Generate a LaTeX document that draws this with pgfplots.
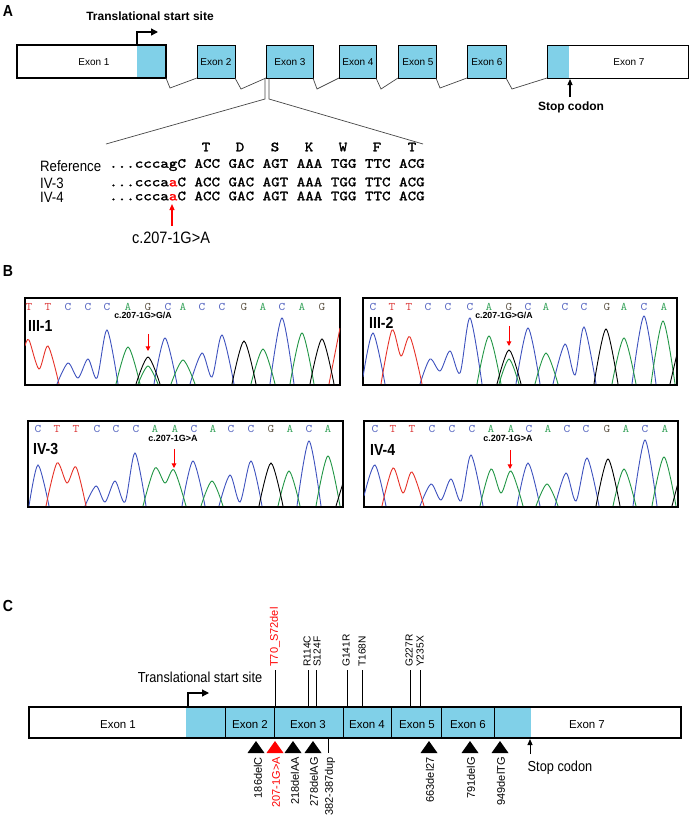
\documentclass[border=0pt]{standalone}
\usepackage{pgfplots}
\pgfplotsset{compat=1.18}
\usetikzlibrary{arrows.meta}
\usepackage{fontspec}
\setmainfont{Liberation Sans}
\newfontfamily\nar{Liberation Sans}[FakeStretch=0.88]
\newfontfamily\seqb{lmmono10-regular.otf}[FakeStretch=1.16,FakeBold=1.6]
\newfontfamily\seql{lmmono10-regular.otf}[FakeStretch=1.1]
\newcommand\fs[1]{\fontsize{#1}{#1}\selectfont}
\definecolor{exb}{RGB}{128,208,232}
\definecolor{cb}{RGB}{62,82,190}
\definecolor{cg}{RGB}{34,150,70}
\definecolor{cr}{RGB}{230,50,40}
\definecolor{lb}{RGB}{80,96,190}
\definecolor{lg}{RGB}{60,165,95}
\definecolor{lr}{RGB}{220,60,60}
\definecolor{lk}{RGB}{95,85,70}
\definecolor{lnk}{RGB}{70,70,70}
\newcommand\nt[3]{\node[font=\seql\fs{11.5},text=#3,inner sep=0] at (axis cs:#1,77) {#2};}
\newcommand\bT[1]{\nt{#1}{T}{lr}}
\newcommand\bC[1]{\nt{#1}{C}{lb}}
\newcommand\bA[1]{\nt{#1}{A}{lg}}
\newcommand\bG[1]{\nt{#1}{G}{lk}}
\tikzset{tb/.style={cb,line width=0.9pt,smooth},
 tg/.style={cg,line width=0.9pt,smooth},
 tr/.style={cr,line width=0.9pt,smooth},
 tk/.style={black,line width=0.9pt,smooth}}
\pgfplotsset{chrom/.style={anchor=south west,scale only axis,ticks=none,
  axis line style={line width=1.2pt},clip=true,no markers}}
\begin{document}
\begin{tikzpicture}
\path[use as bounding box] (0,0) rectangle (692pt,820pt);
\begin{axis}[at={(0pt,0pt)},anchor=south west,scale only axis,width=692pt,height=820pt,
  xmin=0,xmax=692,ymin=0,ymax=820,y dir=reverse,hide axis,clip=false,no markers]
% ---------- panel letters
\node[font=\nar\bfseries\fs{16}] at (axis cs:8,11) {A};
\node[font=\nar\bfseries\fs{16}] at (axis cs:8,271) {B};
\node[font=\nar\bfseries\fs{16}] at (axis cs:8,606) {C};
% ---------- panel A : exons
\addplot[fill=exb,draw=none] coordinates {(137,45)(166,45)(166,78)(137,78)} -- cycle;
\addplot[draw=black,line width=1.3pt] coordinates {(17,45)(166,45)(166,78)(17,78)} -- cycle;
\addplot[fill=exb,draw=black,line width=1pt] coordinates {(197,45)(235,45)(235,78)(197,78)} -- cycle;
\addplot[fill=exb,draw=black,line width=1pt] coordinates {(266,45)(313,45)(313,78)(266,78)} -- cycle;
\addplot[fill=exb,draw=black,line width=1pt] coordinates {(339,45)(376,45)(376,78)(339,78)} -- cycle;
\addplot[fill=exb,draw=black,line width=1pt] coordinates {(398,45)(436,45)(436,78)(398,78)} -- cycle;
\addplot[fill=exb,draw=black,line width=1pt] coordinates {(467,45)(506,45)(506,78)(467,78)} -- cycle;
\addplot[fill=exb,draw=none] coordinates {(547,45)(569,45)(569,78)(547,78)} -- cycle;
\addplot[draw=black,line width=1pt] coordinates {(547,45)(688,45)(688,78)(547,78)} -- cycle;
% introns
\addplot[lnk,line width=0.7pt] coordinates {(166,78)(170,88)(197,78)};
\addplot[lnk,line width=0.7pt] coordinates {(235,78)(241,89)(266,78)};
\addplot[lnk,line width=0.7pt] coordinates {(313,78)(317,89)(339,78)};
\addplot[lnk,line width=0.7pt] coordinates {(376,78)(381,89)(398,78)};
\addplot[lnk,line width=0.7pt] coordinates {(436,78)(440,88)(467,78)};
\addplot[lnk,line width=0.7pt] coordinates {(506,78)(512,89)(547,78)};
% zoom lines
\addplot[lnk,line width=0.7pt] coordinates {(265,78)(265,99)(106,144)};
\addplot[lnk,line width=0.7pt] coordinates {(269,78)(269,99)(423,144)};
\node[font=\fs{10}] at (axis cs:94,62) {Exon 1};
\node[font=\fs{10}] at (axis cs:216,62) {Exon 2};
\node[font=\fs{10}] at (axis cs:290,62) {Exon 3};
\node[font=\fs{10}] at (axis cs:358,62) {Exon 4};
\node[font=\fs{10}] at (axis cs:418,62) {Exon 5};
\node[font=\fs{10}] at (axis cs:487,62) {Exon 6};
\node[font=\fs{10}] at (axis cs:629,62) {Exon 7};
% start site / stop codon
\addplot[black,line width=1.4pt,-{Triangle[length=7pt,width=7pt]}] coordinates {(137,45)(137,32)(158,32)};
\node[font=\bfseries\fs{12}] at (axis cs:150,16) {Translational start site};
\addplot[black,line width=1.1pt,-{Triangle[length=6pt,width=5pt]}] coordinates {(570,97)(570,79)};
\node[font=\bfseries\fs{12}] at (axis cs:571,107) {Stop codon};
% sequences
\node[font=\seqb\fs{14}] at (axis cs:206,147) {T};
\node[font=\seqb\fs{14}] at (axis cs:240,147) {D};
\node[font=\seqb\fs{14}] at (axis cs:275,147) {S};
\node[font=\seqb\fs{14}] at (axis cs:309,147) {K};
\node[font=\seqb\fs{14}] at (axis cs:343,147) {W};
\node[font=\seqb\fs{14}] at (axis cs:377,147) {F};
\node[font=\seqb\fs{14}] at (axis cs:412,147) {T};
\node[font=\nar\fs{15},anchor=west,inner sep=0] at (axis cs:40,166) {Reference};
\node[font=\nar\fs{15},anchor=west,inner sep=0] at (axis cs:40,183) {IV-3};
\node[font=\nar\fs{15},anchor=west,inner sep=0] at (axis cs:40,197) {IV-4};
\node[font=\seqb\fs{14},anchor=west,inner sep=0] at (axis cs:109,165) {...cccagC ACC GAC AGT AAA TGG TTC ACG};
\node[font=\seqb\fs{14},anchor=west,inner sep=0] at (axis cs:109,182) {...ccca\textcolor{red}{a}C ACC GAC AGT AAA TGG TTC ACG};
\node[font=\seqb\fs{14},anchor=west,inner sep=0] at (axis cs:109,196) {...ccca\textcolor{red}{a}C ACC GAC AGT AAA TGG TTC ACG};
\addplot[red,line width=1.2pt,-{Triangle[length=6pt,width=5pt]}] coordinates {(172,226)(172,204)};
\node[font=\nar\fs{16.5}] at (axis cs:171,238) {c.207-1G>A};
% ---------- panel C
\addplot[fill=exb,draw=none] coordinates {(186,707)(531,707)(531,738)(186,738)} -- cycle;
\addplot[draw=black,line width=1.3pt] coordinates {(29,707)(681,707)(681,738)(29,738)} -- cycle;
\addplot[black,line width=1pt] coordinates {(225,707)(225,738)};
\addplot[black,line width=1pt] coordinates {(274,707)(274,738)};
\addplot[black,line width=1pt] coordinates {(343,707)(343,738)};
\addplot[black,line width=1pt] coordinates {(391,707)(391,738)};
\addplot[black,line width=1pt] coordinates {(441,707)(441,738)};
\addplot[black,line width=1pt] coordinates {(494,707)(494,738)};
\node[font=\fs{11.5}] at (axis cs:118,725) {Exon 1};
\node[font=\fs{11.5}] at (axis cs:250,725) {Exon 2};
\node[font=\fs{11.5}] at (axis cs:308,725) {Exon 3};
\node[font=\fs{11.5}] at (axis cs:367,725) {Exon 4};
\node[font=\fs{11.5}] at (axis cs:417,725) {Exon 5};
\node[font=\fs{11.5}] at (axis cs:468,725) {Exon 6};
\node[font=\fs{11.5}] at (axis cs:587,725) {Exon 7};
\addplot[black,line width=1.2pt,-{Triangle[length=7pt,width=7pt]}] coordinates {(188,707)(188,693)(209,693)};
\node[font=\nar\fs{14.5}] at (axis cs:200,677) {Translational start site};
% missense / in-frame (top)
\addplot[black,line width=0.9pt] coordinates {(275,670)(275,707)};
\addplot[black,line width=0.9pt] coordinates {(308,670)(308,707)};
\addplot[black,line width=0.9pt] coordinates {(316,670)(316,707)};
\addplot[black,line width=0.9pt] coordinates {(347,670)(347,707)};
\addplot[black,line width=0.9pt] coordinates {(362,670)(362,707)};
\addplot[black,line width=0.9pt] coordinates {(410,670)(410,707)};
\addplot[black,line width=0.9pt] coordinates {(420,670)(420,707)};
\node[font=\fs{11},text=red,rotate=90,anchor=west,inner sep=0] at (axis cs:275,667) {T70\_S72del};
\node[font=\fs{10.2},rotate=90,anchor=west,inner sep=0] at (axis cs:307,667) {R114C};
\node[font=\fs{10.2},rotate=90,anchor=west,inner sep=0] at (axis cs:317,667) {S124F};
\node[font=\fs{10.2},rotate=90,anchor=west,inner sep=0] at (axis cs:346,667) {G141R};
\node[font=\fs{10.2},rotate=90,anchor=west,inner sep=0] at (axis cs:362,667) {T168N};
\node[font=\fs{10.2},rotate=90,anchor=west,inner sep=0] at (axis cs:409,667) {G227R};
\node[font=\fs{10.2},rotate=90,anchor=west,inner sep=0] at (axis cs:420,667) {Y235X};
% frameshift / splice (bottom)
\addplot[fill=black,draw=none] coordinates {(247.5,753)(264.5,753)(256,741)} -- cycle;
\addplot[fill=red,draw=none] coordinates {(266.5,753)(283.5,753)(275,741)} -- cycle;
\addplot[fill=black,draw=none] coordinates {(284.5,753)(301.5,753)(293,741)} -- cycle;
\addplot[fill=black,draw=none] coordinates {(304.5,753)(321.5,753)(313,741)} -- cycle;
\addplot[black,line width=0.9pt] coordinates {(328,738)(328,753)};
\addplot[fill=black,draw=none] coordinates {(420.5,753)(437.5,753)(429,741)} -- cycle;
\addplot[fill=black,draw=none] coordinates {(461.5,753)(478.5,753)(470,741)} -- cycle;
\addplot[fill=black,draw=none] coordinates {(491.5,753)(508.5,753)(500,741)} -- cycle;
\node[font=\fs{11},rotate=90,anchor=east,inner sep=0] at (axis cs:258,757) {186delC};
\node[font=\fs{11},text=red,rotate=90,anchor=east,inner sep=0] at (axis cs:276,757) {207-1G>A};
\node[font=\fs{11},rotate=90,anchor=east,inner sep=0] at (axis cs:295,757) {218delAA};
\node[font=\fs{11},rotate=90,anchor=east,inner sep=0] at (axis cs:314,757) {278delAG};
\node[font=\fs{11},rotate=90,anchor=east,inner sep=0] at (axis cs:330,757) {382-387dup};
\node[font=\fs{11},rotate=90,anchor=east,inner sep=0] at (axis cs:430,757) {663del27};
\node[font=\fs{11},rotate=90,anchor=east,inner sep=0] at (axis cs:471,757) {791delG};
\node[font=\fs{11},rotate=90,anchor=east,inner sep=0] at (axis cs:501,757) {949delTG};
\addplot[black,line width=1pt,-{Triangle[length=6pt,width=5pt]}] coordinates {(530,754)(530,739)};
\node[font=\nar\fs{14.5}] at (axis cs:560,768) {Stop codon};
\end{axis}
% ---------- panel B : III-1
\begin{axis}[chrom,at={(25pt,435pt)},width=315pt,height=87pt,xmin=25,xmax=340,ymin=-1,ymax=86]
\addplot[tr] coordinates {(25,38)(29,44)(39,15)(48,38)(59,0)};
\addplot[tr] coordinates {(329,0)(340,56)};
\addplot[tb] coordinates {(57,0)(68,21)(78,6)(88,25)(97,6)(107,54)(118,0)};
\addplot[tb] coordinates {(154,0)(165,46)(177,0)};
\addplot[tb] coordinates {(190,0)(202,31)(212,7)(222,49)(234,0)};
\addplot[tb] coordinates {(270,0)(282,66)(294,0)};
\addplot[tg] coordinates {(116,0)(128,37)(140,0)};
\addplot[tg] coordinates {(138,0)(148,18)(158,0)};
\addplot[tg] coordinates {(171,0)(183,24)(195,0)};
\addplot[tg] coordinates {(251,0)(263,35)(275,0)};
\addplot[tg] coordinates {(290,0)(302,51)(314,0)};
\addplot[tk] coordinates {(136,0)(148,27)(160,0)};
\addplot[tk] coordinates {(232,0)(244,43)(256,0)};
\addplot[tk] coordinates {(310,0)(322,45)(334,0)};
\bT{29}\bT{48}\bC{68}\bC{88}\bC{107}\bA{128}\bG{148}\bC{168}\bA{183}\bC{202}\bC{222}\bG{244}\bA{263}\bC{282}\bA{302}\bG{322}
\node[font=\nar\bfseries\fs{16},anchor=west,inner sep=0] at (axis cs:28,58) {III-1};
\node[font=\bfseries\fs{8.8}] at (axis cs:143,68.5) {c.207-1G>G/A};
\addplot[red,line width=1pt,-{Triangle[length=4.5pt,width=4.5pt]}] coordinates {(148,50)(148,33)};
\end{axis}
% III-2
\begin{axis}[chrom,at={(363pt,435pt)},width=314pt,height=87pt,xmin=363,xmax=677,ymin=-1,ymax=86]
\addplot[tb] coordinates {(363,7)(373,51)(385,0)};
\addplot[tb] coordinates {(420,0)(430,25)(440,13)(450,33)(460,11)(470,66)(482,0)};
\addplot[tb] coordinates {(516,0)(528,56)(540,0)};
\addplot[tb] coordinates {(553,0)(565,40)(575,9)(584,57)(596,0)};
\addplot[tb] coordinates {(632,0)(644,68)(656,0)};
\addplot[tr] coordinates {(381,0)(392,54)(401,28)(410,47)(422,0)};
\addplot[tg] coordinates {(477,0)(489,48)(501,0)};
\addplot[tg] coordinates {(499,0)(509,25)(519,0)};
\addplot[tg] coordinates {(535,0)(546,31)(558,0)};
\addplot[tg] coordinates {(612,0)(624,46)(636,0)};
\addplot[tg] coordinates {(651,0)(663,63)(675,0)};
\addplot[tk] coordinates {(497,0)(509,34)(521,0)};
\addplot[tk] coordinates {(594,0)(606,55)(618,0)};
\addplot[tk] coordinates {(670,0)(677,30)};
\bC{373}\bT{392}\bT{409}\bC{428}\bC{448}\bC{470}\bA{489}\bG{509}\bC{528}\bA{546}\bC{565}\bC{584}\bG{607}\bA{624}\bC{644}\bA{664}
\node[font=\nar\bfseries\fs{16},anchor=west,inner sep=0] at (axis cs:369,61) {III-2};
\node[font=\bfseries\fs{8.8}] at (axis cs:504,68.5) {c.207-1G>G/A};
\addplot[red,line width=1pt,-{Triangle[length=4.5pt,width=4.5pt]}] coordinates {(509,58)(509,38)};
\end{axis}
% IV-3
\begin{axis}[chrom,at={(28pt,313pt)},width=315pt,height=86pt,xmin=28,xmax=343,ymin=-1,ymax=85]
\addplot[tb] coordinates {(29,0)(38,41)(49,0)};
\addplot[tb] coordinates {(85,0)(96,20)(105,4)(115,25)(125,4)(135,53)(146,0)};
\addplot[tb] coordinates {(182,0)(193,45)(205,0)};
\addplot[tb] coordinates {(219,0)(230,31)(240,4)(251,45)(262,0)};
\addplot[tb] coordinates {(297,0)(309,65)(321,0)};
\addplot[tr] coordinates {(46,0)(57,43)(67,23)(76,39)(86,0)};
\addplot[tg] coordinates {(143,0)(155,38)(165,23)(174,36)(186,0)};
\addplot[tg] coordinates {(201,0)(212,25)(223,0)};
\addplot[tg] coordinates {(278,0)(289,35)(300,0)};
\addplot[tg] coordinates {(316,0)(328,50)(340,0)};
\addplot[tk] coordinates {(259,0)(271,43)(283,0)};
\addplot[tk] coordinates {(336,0)(343,23)};
\bC{38}\bT{57}\bT{76}\bC{97}\bC{116}\bC{136}\bA{155}\bA{175}\bC{194}\bA{213}\bC{231}\bC{251}\bG{271}\bA{290}\bC{309}\bA{328}
\node[font=\nar\bfseries\fs{16},anchor=west,inner sep=0] at (axis cs:33,57) {IV-3};
\node[font=\bfseries\fs{9}] at (axis cs:173,68) {c.207-1G>A};
\addplot[red,line width=1pt,-{Triangle[length=4.5pt,width=4.5pt]}] coordinates {(174,57)(174,38)};
\end{axis}
% IV-4
\begin{axis}[chrom,at={(364pt,313pt)},width=314pt,height=86pt,xmin=364,xmax=678,ymin=-1,ymax=85]
\addplot[tb] coordinates {(364,10)(375,41)(386,0)};
\addplot[tb] coordinates {(420,0)(431,22)(441,6)(451,27)(461,5)(471,51)(483,0)};
\addplot[tb] coordinates {(517,0)(528,43)(540,0)};
\addplot[tb] coordinates {(555,0)(566,33)(576,5)(587,48)(599,0)};
\addplot[tb] coordinates {(633,0)(645,66)(657,0)};
\addplot[tr] coordinates {(382,0)(393,38)(403,13)(412,34)(424,0)};
\addplot[tg] coordinates {(480,0)(491,37)(501,13)(511,35)(523,0)};
\addplot[tg] coordinates {(536,0)(547,22)(558,0)};
\addplot[tg] coordinates {(613,0)(624,37)(636,0)};
\addplot[tg] coordinates {(652,0)(664,49)(676,0)};
\addplot[tk] coordinates {(596,0)(608,47)(620,0)};
\addplot[tk] coordinates {(672,0)(678,23)};
\bC{375}\bT{393}\bT{412}\bC{432}\bC{452}\bC{472}\bA{491}\bA{511}\bC{529}\bA{548}\bC{567}\bC{586}\bG{607}\bA{626}\bC{645}\bA{665}
\node[font=\nar\bfseries\fs{16},anchor=west,inner sep=0] at (axis cs:370,56) {IV-4};
\node[font=\bfseries\fs{9}] at (axis cs:508,68) {c.207-1G>A};
\addplot[red,line width=1pt,-{Triangle[length=4.5pt,width=4.5pt]}] coordinates {(510,56)(510,37)};
\end{axis}
\end{tikzpicture}
\end{document}
